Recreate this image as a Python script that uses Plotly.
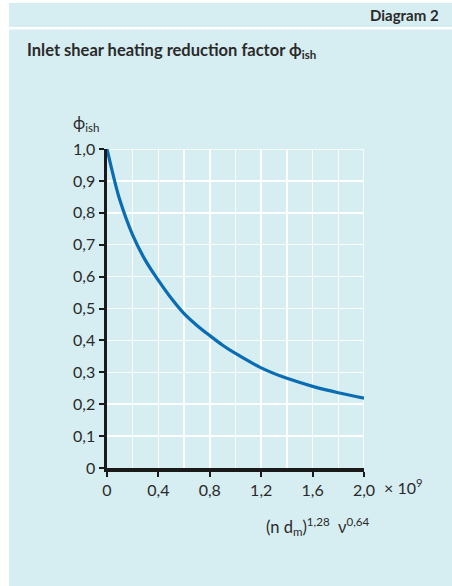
import plotly.graph_objects as go

# ---- data ----
x_vals = [0.0, 0.05, 0.1, 0.2, 0.3, 0.4, 0.5, 0.6, 0.7, 0.8, 0.9, 1.0, 1.2, 1.4, 1.6, 1.8, 2.0]
phi_vals = [1.0, 0.915, 0.84, 0.73, 0.65, 0.588, 0.532, 0.484, 0.447, 0.415, 0.385, 0.359, 0.314, 0.281, 0.256, 0.236, 0.219]

x_ticks = [0, 0.4, 0.8, 1.2, 1.6, 2.0]
x_tick_labels = ["0", "0,4", "0,8", "1,2", "1,6", "2,0"]
y_ticks = [0, 0.1, 0.2, 0.3, 0.4, 0.5, 0.6, 0.7, 0.8, 0.9, 1.0]
y_tick_labels = ["0", "0,1", "0,2", "0,3", "0,4", "0,5", "0,6", "0,7", "0,8", "0,9", "1,0"]
x_max, y_max = 2.0, 1.0

W, H = 452, 586
L, R, T, B = 107, 88, 149, 118
PW, PH = W - L - R, H - T - B

def px(xp):
    return (xp - L) / PW

def py(yp):
    return (H - B - yp) / PH

BG = "#d6edf1"
TXT = "#2a2a2a"
FONT = "Lato, 'Open Sans', sans-serif"

fig = go.Figure()
fig.add_trace(go.Scatter(
    x=x_vals, y=phi_vals, mode="lines",
    line=dict(color="#0a6cb3", width=3.2, shape="spline", smoothing=1.0),
    hoverinfo="skip", showlegend=False,
))

fig.update_layout(
    width=W, height=H,
    margin=dict(l=L, r=R, t=T, b=B, pad=0),
    paper_bgcolor="white",
    plot_bgcolor=BG,
    font=dict(family=FONT, color=TXT, size=16),
    xaxis=dict(
        range=[0, x_max], tickvals=x_ticks, ticktext=x_tick_labels,
        showline=True, linecolor="#1a1a1a", linewidth=3.5,
        ticks="outside", ticklen=5, tickwidth=2, tickcolor="#1a1a1a",
        showgrid=True, gridcolor="white", gridwidth=1.5,
        minor=dict(dtick=0.2, tick0=0, showgrid=True, gridcolor="white", gridwidth=1.5, ticks=""),
        zeroline=False, fixedrange=True,
        tickfont=dict(size=16, color=TXT, family=FONT),
    ),
    yaxis=dict(
        range=[0, y_max], tickvals=y_ticks, ticktext=y_tick_labels,
        showline=True, linecolor="#1a1a1a", linewidth=3.5,
        ticks="outside", ticklen=5, tickwidth=2, tickcolor="#1a1a1a",
        showgrid=True, gridcolor="white", gridwidth=1.5,
        zeroline=False, fixedrange=True,
        tickfont=dict(size=16, color=TXT, family=FONT),
    ),
    shapes=[
        # header band
        dict(type="rect", xref="paper", yref="paper", layer="below",
             x0=px(9), x1=px(452), y0=py(27), y1=py(3),
             fillcolor=BG, line=dict(width=0)),
        # main panel
        dict(type="rect", xref="paper", yref="paper", layer="below",
             x0=px(9), x1=px(452), y0=py(586), y1=py(29.5),
             fillcolor=BG, line=dict(width=0)),
        # grid lines at the upper / right range ends
        dict(type="line", xref="x", yref="y", layer="below",
             x0=0, x1=x_max, y0=y_max, y1=y_max, line=dict(color="white", width=1.5)),
        dict(type="line", xref="x", yref="y", layer="below",
             x0=x_max, x1=x_max, y0=0, y1=y_max, line=dict(color="white", width=1.5)),
    ],
    annotations=[
        dict(text="<b>Diagram 2</b>", xref="paper", yref="paper",
             x=px(441), y=py(15), xanchor="right", yanchor="middle",
             showarrow=False, font=dict(size=15, color=TXT, family=FONT)),
        dict(text="<b>Inlet shear heating reduction factor ϕ<sub>ish</sub></b>", xref="paper", yref="paper",
             x=px(25), y=py(51), xanchor="left", yanchor="middle",
             showarrow=False, font=dict(size=16.5, color=TXT, family=FONT)),
        dict(text="ϕ<sub>ish</sub>", xref="paper", yref="paper",
             x=px(71), y=py(123), xanchor="left", yanchor="middle",
             showarrow=False, font=dict(size=16.5, color=TXT, family=FONT)),
        dict(text="× 10<sup>9</sup>", xref="paper", yref="paper",
             x=px(382), y=py(486), xanchor="left", yanchor="middle",
             showarrow=False, font=dict(size=16, color=TXT, family=FONT)),
        dict(text="(n d<sub>m</sub>)<sup>1,28</sup>  ν<sup>0,64</sup>", xref="paper", yref="paper",
             x=px(318), y=py(526), xanchor="center", yanchor="middle",
             showarrow=False, font=dict(size=16.5, color=TXT, family=FONT)),
    ],
)

fig.write_html(
    "out.html",
    config={"displayModeBar": False, "staticPlot": True},
    post_script="document.body.style.margin='0';document.body.style.overflow='hidden';",
)
